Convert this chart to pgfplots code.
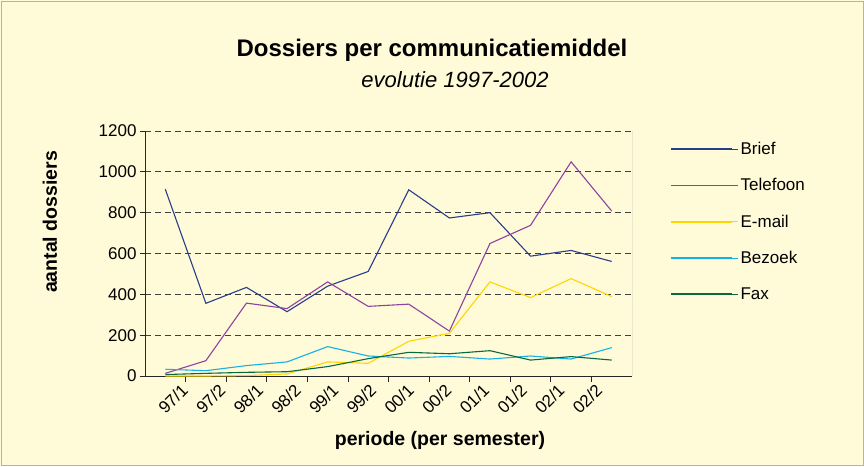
\documentclass[border=0pt]{standalone}
\usepackage{pgfplots}
\pgfplotsset{compat=1.18}
\usepackage{fontspec}
\setmainfont{Liberation Sans}
\definecolor{bg}{RGB}{255,250,216}
\definecolor{cBrief}{RGB}{40,62,140}
\definecolor{cTel}{RGB}{142,66,160}
\definecolor{cMail}{RGB}{255,214,0}
\definecolor{cBez}{RGB}{20,178,230}
\definecolor{cFax}{RGB}{10,105,60}
\begin{document}
\begin{tikzpicture}[x=1pt,y=1pt]
\fill[bg] (0,0) rectangle (864,466);
\draw[gray!60,line width=0.8pt] (1,1) rectangle (863,465);
\useasboundingbox (0,0) rectangle (864,466);
\node[font=\fontsize{24}{28}\selectfont\bfseries] at (432,416) {Dossiers per communicatiemiddel};
\node[font=\fontsize{22}{26}\selectfont\itshape] at (455,386) {evolutie 1997-2002};
\node[font=\fontsize{19.5}{23}\selectfont\bfseries,rotate=90] at (50,244) {aantal dossiers};
\node[font=\fontsize{19.5}{23}\selectfont\bfseries] at (440,26) {periode (per semester)};
\begin{axis}[
  at={(145pt,90pt)}, anchor=south west,
  scale only axis, width=487pt, height=245pt,
  xmin=-0.5, xmax=11.5, ymin=0, ymax=1200,
  axis x line*=bottom, axis y line*=left,
  axis line style={line width=1pt, black!85},
  xtick={0.37,1.298,2.226,3.154,4.082,5.01,5.938,6.866,7.794,8.722,9.65,10.578},
  xticklabels={97/1,97/2,98/1,98/2,99/1,99/2,00/1,00/2,01/1,01/2,02/1,02/2},
  x tick label style={rotate=45, anchor=north east, font=\fontsize{17}{20}\selectfont, inner sep=1pt},
  major x tick style={draw=none},
  minor xtick={0.5,1.5,...,10.5},
  minor x tick style={black!85, line width=0.8pt},
  minor tick length=6pt,
  ytick={0,200,...,1200},
  y tick label style={font=\fontsize{17}{20}\selectfont},
  /pgf/number format/assume math mode=true,
  yticklabel style={/pgf/number format/1000 sep={}},
  ymajorgrids,
  major grid style={black!75, dash pattern=on 6pt off 4pt, line width=0.8pt},
  major y tick style={black!85, line width=0.8pt},
  tick align=outside, major tick length=5pt,
  legend style={at={(1.078,0.963)}, anchor=north west, draw=none, fill=none,
    font=\fontsize{17}{20}\selectfont, row sep=18.5pt, inner sep=0pt},
  legend cell align=left,
  legend image code/.code={\path (0pt,0pt) -- (67pt,0pt);\draw[mark repeat=2,mark phase=2,#1,line width=1.7pt] plot coordinates {(0pt,0pt) (30pt,0pt) (61pt,0pt)};},
]
\addplot[color=cBrief, line width=1.1pt, mark=none] coordinates {(0,915)(1,356)(2,434)(3,315)(4,440)(5,512)(6,912)(7,774)(8,800)(9,587)(10,615)(11,561)};
\addlegendentry{Brief}
\addplot[color=cTel, line width=1.1pt, mark=none] coordinates {(0,13)(1,75)(2,357)(3,330)(4,461)(5,341)(6,352)(7,220)(8,649)(9,738)(10,1049)(11,808)};
\addlegendentry{Telefoon}
\addplot[color=cMail, line width=1.1pt, mark=none] coordinates {(0,0)(1,0)(2,2)(3,10)(4,69)(5,62)(6,170)(7,209)(8,461)(9,384)(10,477)(11,389)};
\addlegendentry{E-mail}
\addplot[color=cBez, line width=1.1pt, mark=none] coordinates {(0,33)(1,26)(2,51)(3,69)(4,144)(5,98)(6,88)(7,96)(8,83)(9,98)(10,83)(11,139)};
\addlegendentry{Bezoek}
\addplot[color=cFax, line width=1.1pt, mark=none] coordinates {(0,7)(1,13)(2,18)(3,21)(4,46)(5,85)(6,116)(7,109)(8,124)(9,78)(10,95)(11,78)};
\addlegendentry{Fax}
\draw[black!60, line width=0.6pt] (rel axis cs:1,0) -- (rel axis cs:1,1);
\end{axis}
\end{tikzpicture}
\end{document}
